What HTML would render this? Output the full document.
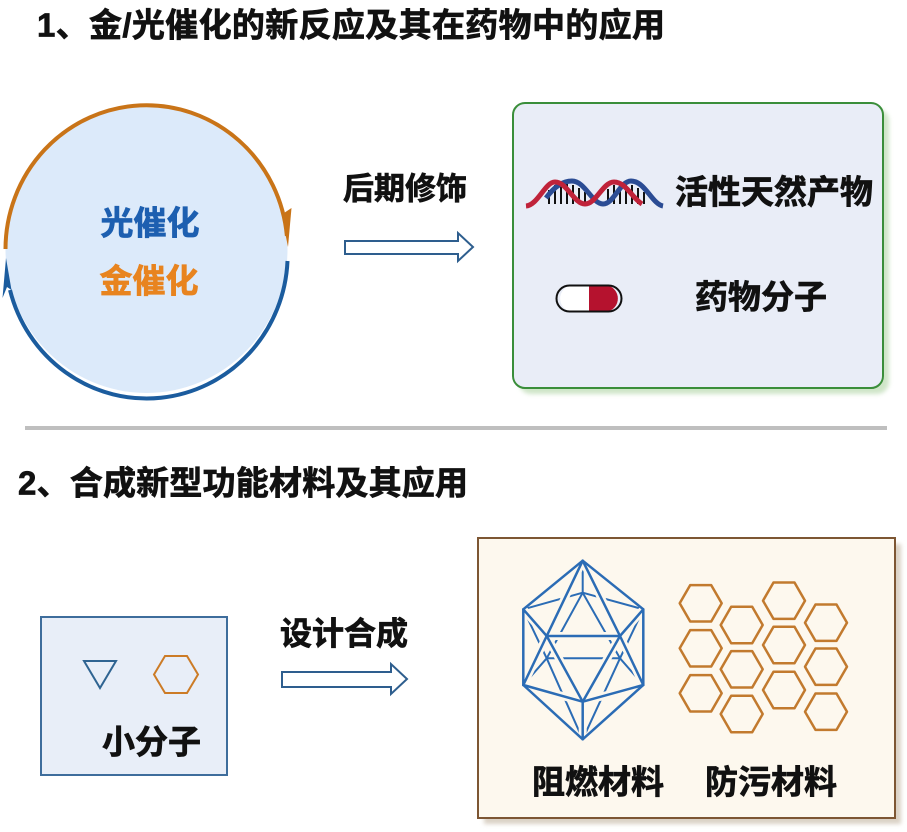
<!DOCTYPE html>
<html>
<head>
<meta charset="utf-8">
<style>
  html,body{margin:0;padding:0;background:#ffffff;}
  svg{display:block;}
  .t{font-family:"Liberation Sans","Noto Sans CJK SC","WenQuanYi Zen Hei",sans-serif;font-weight:700;stroke-width:0.7;paint-order:stroke;}
</style>
</head>
<body>
<svg width="907" height="832" viewBox="0 0 907 832" xmlns="http://www.w3.org/2000/svg">
  <defs>
    <filter id="blur3" x="-5%" y="-5%" width="110%" height="110%">
      <feGaussianBlur stdDeviation="2"/>
    </filter>
  </defs>
  <rect x="0" y="0" width="907" height="832" fill="#ffffff"/>

  <!-- Title 1 -->
  <text class="t" x="37" y="36.5" font-size="33" fill="#111111" stroke="#111111" textLength="628" lengthAdjust="spacing">1、金/光催化的新反应及其在药物中的应用</text>

  <!-- Circle -->
  <ellipse cx="146.5" cy="249" rx="141" ry="144" fill="#DCEAFA"/>
  <path d="M5.5,249 A141,144 0 0 1 286.9,236" fill="none" stroke="#C97418" stroke-width="4"/>
  <polygon points="282.5,214 291.5,208 288,247 285,232" fill="#C97418"/>
  <path d="M287.5,261 A141,144 0 0 1 10,290" fill="none" stroke="#1B5C9E" stroke-width="4"/>
  <polygon points="6,258 11.5,290 7,287 2.5,298" fill="#1B5C9E"/>
  <text class="t" x="150" y="234.5" font-size="33" fill="#1D5FB0" stroke="#1D5FB0" text-anchor="middle">光催化</text>
  <text class="t" x="149" y="292.5" font-size="33" fill="#E8841F" stroke="#E8841F" text-anchor="middle">金催化</text>

  <!-- Arrow 1 -->
  <text class="t" x="343" y="199.5" font-size="31" fill="#111111" stroke="#111111">后期修饰</text>
  <path d="M345,241 H458 V233 L473,247 L458,261 V254 H345 Z" fill="#ffffff" stroke="#2E5E8E" stroke-width="2"/>

  <!-- Top right box -->
  <rect x="519" y="109" width="370" height="285" rx="12" ry="12" fill="#CFE5C8" filter="url(#blur3)"/>
  <rect x="513" y="103" width="370" height="285" rx="12" ry="12" fill="#E9EDF7" stroke="#3A8E3A" stroke-width="2"/>

  <!-- DNA -->
  <g stroke="#111" stroke-width="2">
    <line x1="549" y1="190" x2="549" y2="204"/>
    <line x1="555" y1="185" x2="555" y2="204"/>
    <line x1="561" y1="184" x2="561" y2="204"/>
    <line x1="567" y1="184" x2="567" y2="204"/>
    <line x1="573" y1="185" x2="573" y2="204"/>
    <line x1="579" y1="188" x2="579" y2="204"/>
    <line x1="585" y1="192" x2="585" y2="204"/>
    <line x1="608" y1="189" x2="608" y2="204"/>
    <line x1="614" y1="185" x2="614" y2="204"/>
    <line x1="620" y1="184" x2="620" y2="204"/>
    <line x1="626" y1="184" x2="626" y2="204"/>
    <line x1="632" y1="185" x2="632" y2="204"/>
    <line x1="638" y1="188" x2="638" y2="204"/>
    <line x1="644" y1="192" x2="644" y2="204"/>
  </g>
  <path d="M546,198 C555,186 563,181 572,181 C585,181 592,204 603,204 C614,204 620,181 631,181 C645,181 652,204 663,206" fill="none" stroke="#2B4C94" stroke-width="5"/>
  <path d="M526,206 C538,205 545,182 555,182 C567,182 574,204 585,204 C596,204 603,182 614,182 C626,182 632,198 642,204" fill="none" stroke="#C0233A" stroke-width="5"/>

  <text class="t" x="675" y="203.5" font-size="33" fill="#111111" stroke="#111111">活性天然产物</text>

  <!-- Pill -->
  <path d="M589,285.5 H570 A13.5,13.5 0 0 0 570,311.5 H589 Z" fill="#ffffff"/>
  <path d="M589,285.5 H608 A13.5,13.5 0 0 1 608,311.5 H589 Z" fill="#B5122E"/>
  <rect x="556.5" y="285.5" width="65" height="26" rx="13" ry="13" fill="none" stroke="#111" stroke-width="2"/>
  <text class="t" x="695" y="308.5" font-size="33" fill="#111111" stroke="#111111">药物分子</text>

  <!-- Separator -->
  <rect x="25" y="426" width="862" height="4" fill="#BFBFBF"/>

  <!-- Title 2 -->
  <text class="t" x="18" y="494.5" font-size="33" fill="#111111" stroke="#111111" textLength="450" lengthAdjust="spacing">2、合成新型功能材料及其应用</text>

  <!-- Small molecule box -->
  <rect x="41" y="617" width="186" height="158" fill="#E8EEF8" stroke="#3E6D9C" stroke-width="2"/>
  <polygon points="84,661 116,661 100,688" fill="none" stroke="#2F6492" stroke-width="2"/>
  <polygon points="154,674.5 165,656 187,656 198,674.5 187,693 165,693" fill="none" stroke="#CC7B26" stroke-width="2"/>
  <text class="t" x="102" y="753.5" font-size="33" fill="#111111" stroke="#111111">小分子</text>

  <!-- Arrow 2 -->
  <text class="t" x="280" y="644.5" font-size="32" fill="#111111" stroke="#111111">设计合成</text>
  <path d="M282,672 H391 V664 L407,679 L391,694 V687 H282 Z" fill="#ffffff" stroke="#2E5E8E" stroke-width="2"/>

  <!-- Bottom right box -->
  <rect x="484" y="544" width="417" height="280" fill="#DAD1C5" filter="url(#blur3)"/>
  <rect x="478" y="538" width="417" height="280" fill="#FDF8EE" stroke="#7D5633" stroke-width="2"/>

  <!-- Icosahedron -->
  <g stroke="#2B6CB5" stroke-width="2" fill="none" stroke-linecap="round">
    <line x1="582.7" y1="592.7" x2="546.7" y2="658.3"/>
    <line x1="582.7" y1="592.7" x2="620" y2="658.3"/>
    <line x1="546.7" y1="658.3" x2="620" y2="658.3"/>
    <line x1="582.7" y1="592.7" x2="582.7" y2="560.7"/>
    <line x1="582.7" y1="592.7" x2="523.3" y2="609.3"/>
    <line x1="582.7" y1="592.7" x2="643.3" y2="609.3"/>
    <line x1="546.7" y1="658.3" x2="523.3" y2="609.3"/>
    <line x1="546.7" y1="658.3" x2="523.3" y2="685"/>
    <line x1="546.7" y1="658.3" x2="582.7" y2="739.3"/>
    <line x1="620" y1="658.3" x2="643.3" y2="609.3"/>
    <line x1="620" y1="658.3" x2="643.3" y2="685"/>
    <line x1="620" y1="658.3" x2="582.7" y2="739.3"/>
  </g>
  <g stroke="#FDF8EE" stroke-width="8" fill="none" stroke-linecap="butt">
    <line x1="546.7" y1="636" x2="620" y2="636"/>
    <line x1="620" y1="636" x2="582.7" y2="701.7"/>
    <line x1="582.7" y1="701.7" x2="546.7" y2="636"/>
    <line x1="582.7" y1="560.7" x2="546.7" y2="636"/>
    <line x1="582.7" y1="560.7" x2="620" y2="636"/>
    <line x1="523.3" y1="609.3" x2="546.7" y2="636"/>
    <line x1="643.3" y1="609.3" x2="620" y2="636"/>
    <line x1="523.3" y1="685" x2="546.7" y2="636"/>
    <line x1="523.3" y1="685" x2="582.7" y2="701.7"/>
    <line x1="643.3" y1="685" x2="620" y2="636"/>
    <line x1="643.3" y1="685" x2="582.7" y2="701.7"/>
    <line x1="582.7" y1="739.3" x2="582.7" y2="701.7"/>
  </g>
  <g stroke="#2B6CB5" stroke-width="2.5" fill="none" stroke-linejoin="round" stroke-linecap="round">
    <polygon points="582.7,560.7 643.3,609.3 643.3,685 582.7,739.3 523.3,685 523.3,609.3"/>
    <line x1="546.7" y1="636" x2="620" y2="636"/>
    <line x1="620" y1="636" x2="582.7" y2="701.7"/>
    <line x1="582.7" y1="701.7" x2="546.7" y2="636"/>
    <line x1="582.7" y1="560.7" x2="546.7" y2="636"/>
    <line x1="582.7" y1="560.7" x2="620" y2="636"/>
    <line x1="523.3" y1="609.3" x2="546.7" y2="636"/>
    <line x1="643.3" y1="609.3" x2="620" y2="636"/>
    <line x1="523.3" y1="685" x2="546.7" y2="636"/>
    <line x1="523.3" y1="685" x2="582.7" y2="701.7"/>
    <line x1="643.3" y1="685" x2="620" y2="636"/>
    <line x1="643.3" y1="685" x2="582.7" y2="701.7"/>
    <line x1="582.7" y1="739.3" x2="582.7" y2="701.7"/>
  </g>

  <!-- Hexagon grid -->
  <g fill="none" stroke="#C27A2E" stroke-width="2.5" stroke-linejoin="round">
    <polygon points="679.7,603.3 690.2,585.1 711.2,585.1 721.7,603.3 711.2,621.5 690.2,621.5"/>
    <polygon points="679.7,648.3 690.2,630.1 711.2,630.1 721.7,648.3 711.2,666.5 690.2,666.5"/>
    <polygon points="679.7,693.3 690.2,675.1 711.2,675.1 721.7,693.3 711.2,711.5 690.2,711.5"/>

    <polygon points="720.7,625 731.2,606.8 752.2,606.8 762.7,625 752.2,643.2 731.2,643.2"/>
    <polygon points="720.7,669.3 731.2,651.1 752.2,651.1 762.7,669.3 752.2,687.5 731.2,687.5"/>
    <polygon points="720.7,714 731.2,695.8 752.2,695.8 762.7,714 752.2,732.2 731.2,732.2"/>

    <polygon points="763,600.7 773.5,582.5 794.5,582.5 805,600.7 794.5,618.9 773.5,618.9"/>
    <polygon points="763,645 773.5,626.8 794.5,626.8 805,645 794.5,663.2 773.5,663.2"/>
    <polygon points="763,690 773.5,671.8 794.5,671.8 805,690 794.5,708.2 773.5,708.2"/>

    <polygon points="805,622.7 815.5,604.5 836.5,604.5 847,622.7 836.5,640.9 815.5,640.9"/>
    <polygon points="805,666.7 815.5,648.5 836.5,648.5 847,666.7 836.5,684.9 815.5,684.9"/>
    <polygon points="805,711.7 815.5,693.5 836.5,693.5 847,711.7 836.5,729.9 815.5,729.9"/>
  </g>

  <text class="t" x="532" y="793.5" font-size="33" fill="#111111" stroke="#111111">阻燃材料</text>
  <text class="t" x="705" y="793.5" font-size="33" fill="#111111" stroke="#111111">防污材料</text>
</svg>
</body>
</html>
